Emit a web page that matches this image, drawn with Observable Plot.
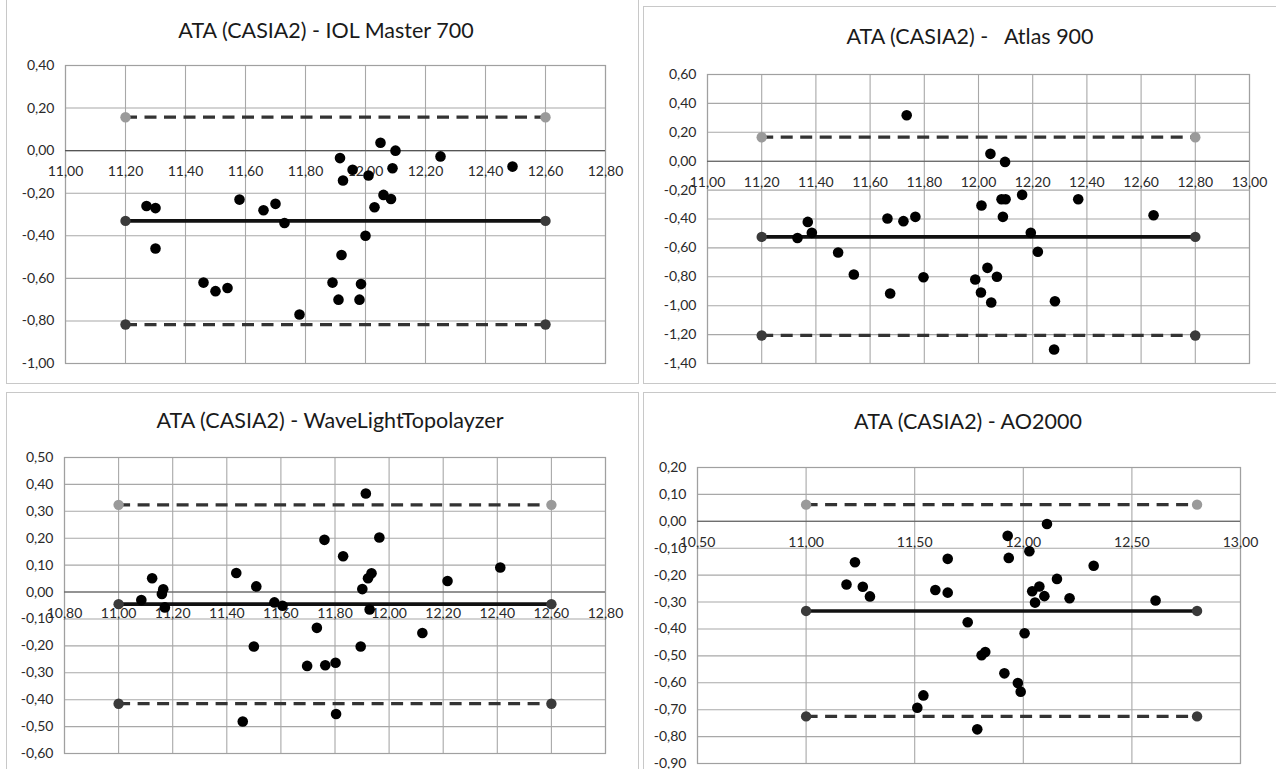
<!DOCTYPE html>
<html><head><meta charset="utf-8">
<script src="https://cdn.jsdelivr.net/npm/d3@7"></script>
<script src="https://cdn.jsdelivr.net/npm/@observablehq/plot@0.6"></script>
<style>
body{margin:0;background:#fff;}
#root{position:relative;width:1276px;height:769px;overflow:hidden;font-family:Lato,"Open Sans",sans-serif;background:#fff;}
.box{position:absolute;border:1.5px solid #c8c8c8;box-sizing:border-box;}
.title{position:absolute;transform:translate(-50%,-50%);font-size:21.5px;color:#1a1a1a;white-space:pre;line-height:1;}
.chart{position:absolute;}
.chart svg{overflow:visible;}
</style></head><body><div id="root"></div>
<script>
// ---------- Panel 1: ATA (CASIA2) - IOL Master 700 ----------
const iolTitle = "ATA (CASIA2) - IOL Master 700";
const iolMean = [11.27,11.30,11.30,11.58,11.66,11.70,11.73,11.46,11.50,11.54,11.78,11.89,11.91,11.92,11.915,11.925,11.957,12.01,12.05,12.10,12.09,12.25,12.49,12.06,12.085,12.03,12.00,11.985,11.98];
const iolDiff = [-0.26,-0.27,-0.46,-0.23,-0.28,-0.25,-0.34,-0.62,-0.66,-0.645,-0.77,-0.62,-0.70,-0.49,-0.035,-0.14,-0.09,-0.117,0.037,0.00,-0.083,-0.027,-0.075,-0.208,-0.227,-0.266,-0.40,-0.627,-0.70];
const iolLoA = [0.157, -0.330, -0.817];   // upper, mean, lower
const iolRange = [11.20, 12.60];
const iolXTicks = [11.0,11.2,11.4,11.6,11.8,12.0,12.2,12.4,12.6,12.8];
const iolYTicks = [0.4,0.2,0.0,-0.2,-0.4,-0.6,-0.8,-1.0];

// ---------- Panel 2: ATA (CASIA2) - Atlas 900 ----------
const atlasTitle = "ATA (CASIA2) -   Atlas 900";
const atlasMean = [11.735,11.332,11.370,11.385,11.482,11.540,11.664,11.723,11.767,11.674,11.797,12.011,11.988,12.009,12.044,12.098,12.085,12.100,12.161,12.090,12.368,12.646,12.193,12.219,12.033,12.068,12.047,12.282,12.279];
const atlasDiff = [0.318,-0.531,-0.42,-0.496,-0.632,-0.784,-0.397,-0.415,-0.385,-0.916,-0.803,-0.307,-0.819,-0.909,0.051,-0.005,-0.263,-0.263,-0.233,-0.385,-0.263,-0.374,-0.496,-0.627,-0.738,-0.800,-0.978,-0.969,-1.303];
const atlasLoA = [0.166, -0.524, -1.206];
const atlasRange = [11.20, 12.80];
const atlasXTicks = [11.0,11.2,11.4,11.6,11.8,12.0,12.2,12.4,12.6,12.8,13.0];
const atlasYTicks = [0.6,0.4,0.2,0.0,-0.2,-0.4,-0.6,-0.8,-1.0,-1.2,-1.4];

// ---------- Panel 3: ATA (CASIA2) - WaveLightTopolayzer ----------
const waveTitle = "ATA (CASIA2) - WaveLightTopolayzer";
const waveMean = [11.084,11.124,11.165,11.160,11.171,11.435,11.509,11.500,11.576,11.606,11.459,11.697,11.733,11.764,11.802,11.761,11.830,11.804,11.914,11.964,12.411,12.216,11.922,11.935,11.901,11.928,12.123,11.895];
const waveDiff = [-0.030,0.051,0.010,-0.007,-0.057,0.071,0.021,-0.2025,-0.0385,-0.051,-0.481,-0.2745,-0.133,-0.272,-0.263,0.194,0.133,-0.453,0.366,0.2025,0.091,0.041,0.051,0.070,0.011,-0.065,-0.152,-0.2025];
const waveLoA = [0.324, -0.045, -0.415];
const waveRange = [11.00, 12.60];
const waveXTicks = [10.8,11.0,11.2,11.4,11.6,11.8,12.0,12.2,12.4,12.6,12.8];
const waveYTicks = [0.5,0.4,0.3,0.2,0.1,0.0,-0.1,-0.2,-0.3,-0.4,-0.5,-0.6];

// ---------- Panel 4: ATA (CASIA2) - AO2000 ----------
const aoTitle = "ATA (CASIA2) - AO2000";
const aoMean = [11.225,11.186,11.261,11.294,11.652,11.595,11.652,11.744,11.540,11.512,11.788,12.109,11.928,12.028,11.933,12.324,12.155,12.074,12.041,12.097,12.213,12.054,12.609,12.006,11.808,11.825,11.913,11.975,11.988];
const aoDiff = [-0.152,-0.235,-0.243,-0.279,-0.1395,-0.2555,-0.265,-0.375,-0.647,-0.693,-0.773,-0.010,-0.054,-0.111,-0.136,-0.165,-0.214,-0.242,-0.260,-0.278,-0.286,-0.302,-0.294,-0.416,-0.4975,-0.486,-0.565,-0.601,-0.633];
const aoLoA = [0.062, -0.333, -0.725];
const aoRange = [11.00, 12.80];
const aoXTicks = [10.5,11.0,11.5,12.0,12.5,13.0];
const aoYTicks = [0.2,0.1,0.0,-0.1,-0.2,-0.3,-0.4,-0.5,-0.6,-0.7,-0.8,-0.9];

const fmt = d3.formatLocale({decimal: ",", thousands: ".", grouping: [3], currency: ["", ""], minus: "-"}).format(".2f");

const root = document.getElementById("root");

function addBox(l, t, w, h) {
  const b = document.createElement("div");
  b.className = "box";
  Object.assign(b.style, {left: l + "px", top: t + "px", width: w + "px", height: h + "px"});
  root.appendChild(b);
}
function addTitle(text, cx, cy) {
  const t = document.createElement("div");
  t.className = "title";
  t.textContent = text;
  Object.assign(t.style, {left: cx + "px", top: cy + "px"});
  root.appendChild(t);
}

function panel(cfg) {
  const pts = cfg.mean.map((x, i) => ({x, y: cfg.diff[i]}));
  const [up, mid, low] = cfg.loa;
  const [xa, xb] = cfg.range;
  const dashed = [{y: up, x1: xa, x2: xb}, {y: low, x1: xa, x2: xb}];
  const solid = [{y: mid, x1: xa, x2: xb}];
  const endsGrey = [{x: xa, y: up}, {x: xb, y: up}];
  const endsDark = [{x: xa, y: mid}, {x: xb, y: mid}, {x: xa, y: low}, {x: xb, y: low}];
  const svg = Plot.plot({
    width: cfg.w, height: cfg.h,
    marginLeft: cfg.ml, marginRight: cfg.mr, marginTop: cfg.mt, marginBottom: cfg.mb,
    style: {fontFamily: "Lato, 'Open Sans', sans-serif", background: "transparent", overflow: "visible"},
    x: {domain: cfg.xdom, axis: null},
    y: {domain: cfg.ydom},
    marks: [
      Plot.gridX(cfg.xticks, {stroke: "#a8a8a8", strokeOpacity: 1, strokeWidth: 1.1}),
      Plot.gridY(cfg.yticks, {stroke: "#a8a8a8", strokeOpacity: 1, strokeWidth: 1.1}),
      Plot.frame({stroke: "#a0a0a0", strokeWidth: 1.2}),
      Plot.ruleY([0], {stroke: "#555", strokeWidth: 1.1}),
      Plot.axisY(cfg.yticks, {tickSize: 0, tickPadding: 11, tickFormat: fmt, fontSize: 14, fill: "#2a2a2a", label: null}),
      Plot.text(cfg.xticks, {x: d => d, y: () => 0, dy: 21, text: d => fmt(d), fontSize: 14, fill: "#2a2a2a"}),
      Plot.ruleY(dashed, {y: "y", x1: "x1", x2: "x2", stroke: "#333", strokeWidth: 3.2, strokeDasharray: "12,7.5"}),
      Plot.ruleY(solid, {y: "y", x1: "x1", x2: "x2", stroke: "#111", strokeWidth: 3.6}),
      Plot.dot(endsGrey, {x: "x", y: "y", r: 5.2, fill: "#9a9a9a"}),
      Plot.dot(endsDark, {x: "x", y: "y", r: 5.2, fill: "#3a3a3a"}),
      Plot.dot(pts, {x: "x", y: "y", r: 5.3, fill: "#000"})
    ]
  });
  const wrap = document.createElement("div");
  wrap.className = "chart";
  Object.assign(wrap.style, {left: cfg.left + "px", top: cfg.top + "px"});
  wrap.appendChild(svg);
  root.appendChild(wrap);
}

// panel frames
addBox(6, -3, 633, 387);
addBox(643, 6, 640, 378);
addBox(6, 392, 633, 380);
addBox(643, 392, 640, 380);

addTitle(iolTitle, 326, 31);
addTitle(atlasTitle, 970, 37);
addTitle(waveTitle, 330, 421);
addTitle(aoTitle, 968, 422);

panel({mean: iolMean, diff: iolDiff, loa: iolLoA, range: iolRange, xticks: iolXTicks, yticks: iolYTicks,
  xdom: [11.0, 12.8], ydom: [-1.0, 0.4], left: 0, top: 0, w: 640, h: 383, ml: 65, mr: 35, mt: 65, mb: 20});
panel({mean: atlasMean, diff: atlasDiff, loa: atlasLoA, range: atlasRange, xticks: atlasXTicks, yticks: atlasYTicks,
  xdom: [11.0, 13.0], ydom: [-1.4, 0.6], left: 640, top: 0, w: 636, h: 383, ml: 67, mr: 27, mt: 74, mb: 20});
panel({mean: waveMean, diff: waveDiff, loa: waveLoA, range: waveRange, xticks: waveXTicks, yticks: waveYTicks,
  xdom: [10.8, 12.8], ydom: [-0.6, 0.5], left: 0, top: 385, w: 640, h: 384, ml: 64, mr: 35, mt: 72, mb: 16});
panel({mean: aoMean, diff: aoDiff, loa: aoLoA, range: aoRange, xticks: aoXTicks, yticks: aoYTicks,
  xdom: [10.5, 13.0], ydom: [-0.9, 0.2], left: 640, top: 385, w: 636, h: 384, ml: 57, mr: 36, mt: 82, mb: 6});
</script></body></html>
